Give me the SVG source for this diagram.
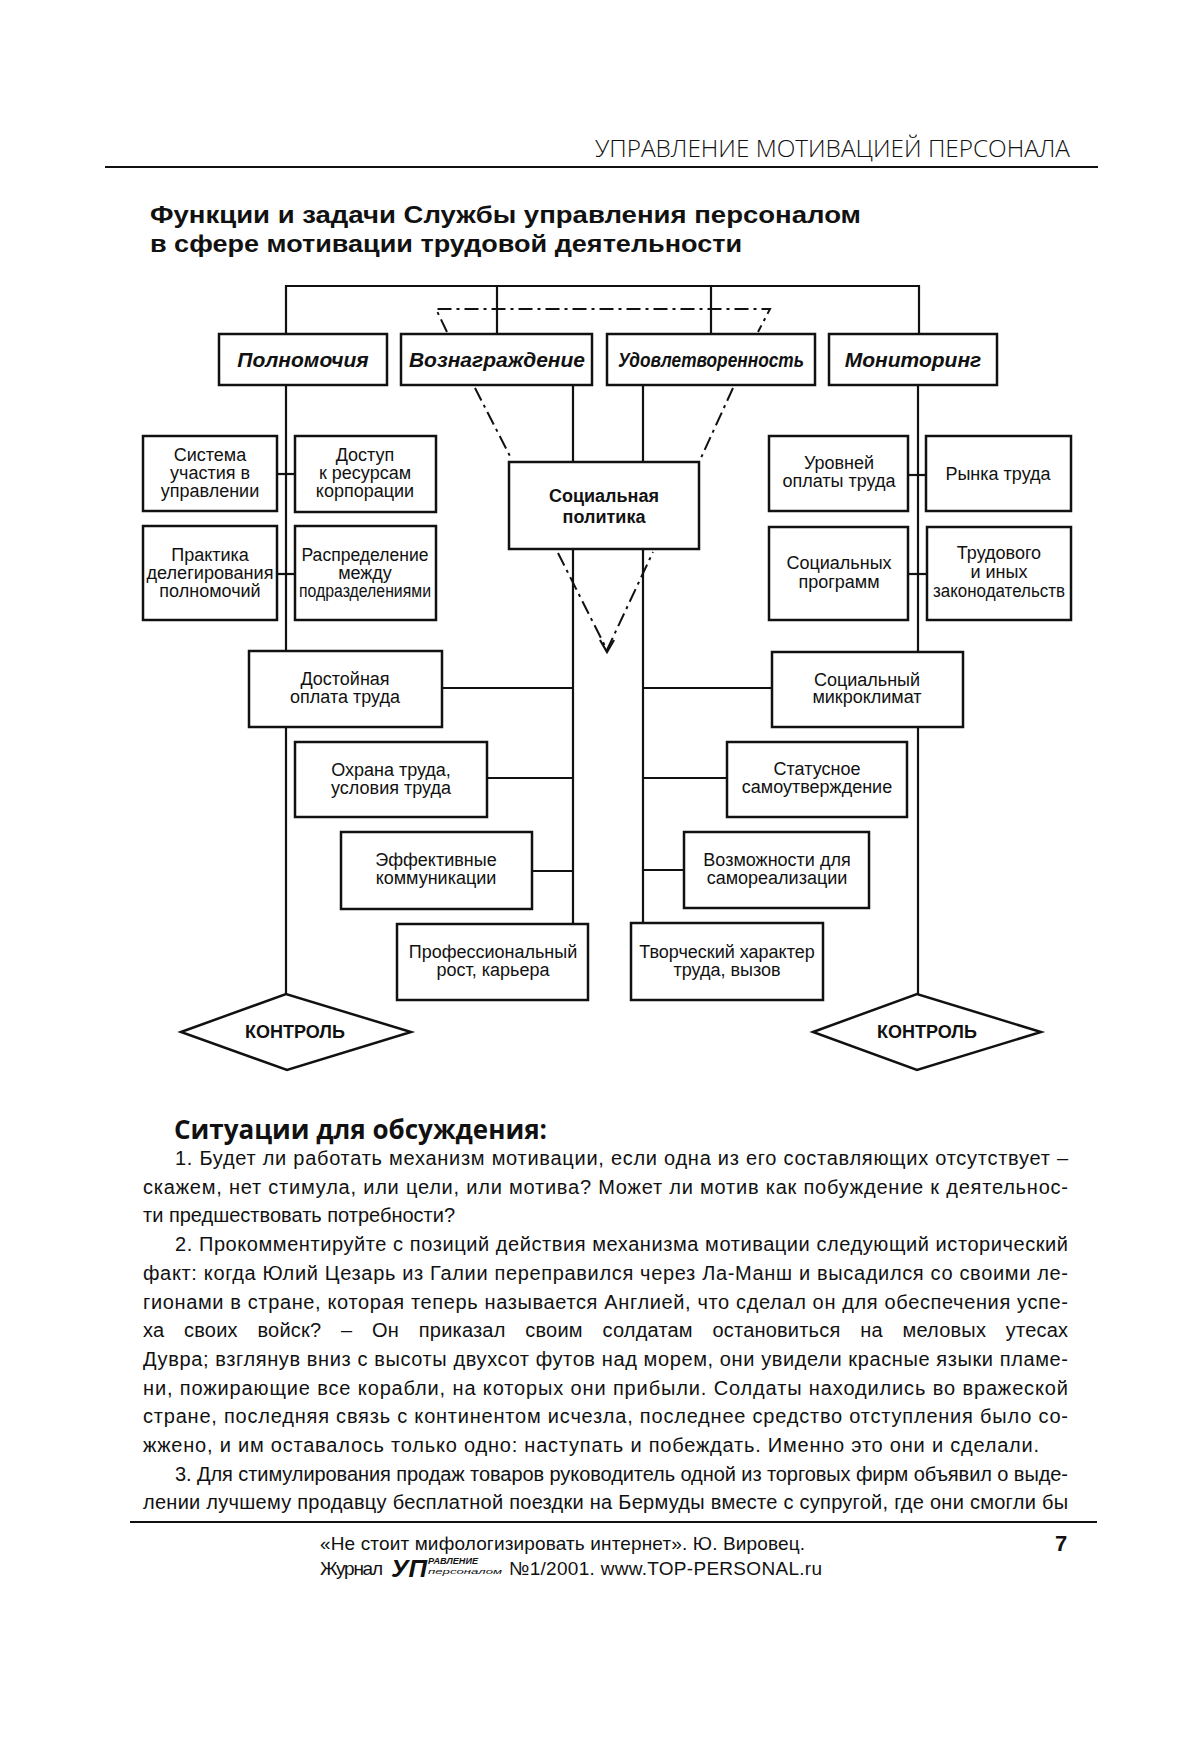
<svg xmlns="http://www.w3.org/2000/svg" width="1200" height="1738" viewBox="0 0 1200 1738">
<style>
.box{fill:#fff;stroke:#111;stroke-width:2.5}
.ln{stroke:#111;stroke-width:2.2;fill:none}
.dd{stroke:#111;stroke-width:2;stroke-dasharray:14 5 3 5;fill:none}
.t{font-family:"Liberation Sans",Arial,sans-serif;font-size:18px;text-anchor:middle;fill:#111}
.hb{font-weight:bold;font-style:italic;font-size:21px}
.b{font-weight:bold}
.body{font-family:"Liberation Sans",Arial,sans-serif;font-size:20px;fill:#111}
.ft{font-family:"Liberation Sans",Arial,sans-serif;fill:#111}
.my{font-family:"Open Sans","Liberation Sans",sans-serif;fill:#111}
.ttl{font-family:"Liberation Sans",Arial,sans-serif;font-size:24px;font-weight:bold;fill:#111}
</style>
<rect width="1200" height="1738" fill="#fff"/>
<!-- page header -->
<text class="my" x="595" y="157" font-size="24" font-weight="300" textLength="475" lengthAdjust="spacingAndGlyphs">УПРАВЛЕНИЕ МОТИВАЦИЕЙ ПЕРСОНАЛА</text>
<line x1="105" y1="167" x2="1098" y2="167" stroke="#111" stroke-width="2"/>
<text class="ttl" x="150" y="223" textLength="711" lengthAdjust="spacingAndGlyphs">Функции и задачи Службы управления персоналом</text>
<text class="ttl" x="150" y="252" textLength="592" lengthAdjust="spacingAndGlyphs">в сфере мотивации трудовой деятельности</text>

<g id="connectors">
<polyline class="ln" points="286,334 286,286 919,286 919,334"/>
<line class="ln" x1="497" y1="286" x2="497" y2="334"/>
<line class="ln" x1="711" y1="286" x2="711" y2="334"/>
<line class="ln" x1="286" y1="385" x2="286" y2="994"/>
<line class="ln" x1="918" y1="385" x2="918" y2="994"/>
<line class="ln" x1="573" y1="385" x2="573" y2="923"/>
<line class="ln" x1="643" y1="385" x2="643" y2="923"/>
<line class="ln" x1="277" y1="474" x2="295" y2="474"/>
<line class="ln" x1="277" y1="574" x2="295" y2="574"/>
<line class="ln" x1="908" y1="475" x2="926" y2="475"/>
<line class="ln" x1="908" y1="574" x2="927" y2="574"/>
<line class="ln" x1="442" y1="688" x2="573" y2="688"/>
<line class="ln" x1="487" y1="778" x2="573" y2="778"/>
<line class="ln" x1="532" y1="871" x2="573" y2="871"/>
<line class="ln" x1="643" y1="688" x2="772" y2="688"/>
<line class="ln" x1="643" y1="778" x2="727" y2="778"/>
<line class="ln" x1="643" y1="870" x2="684" y2="870"/>
<polyline class="dd" points="447,332 436,309 770,309 758,332"/>
<line class="dd" x1="475" y1="388" x2="512" y2="460"/>
<line class="dd" x1="733" y1="388" x2="700" y2="460"/>
<polyline class="dd" points="558,553 607,650 653,552"/>
<polyline class="ln" points="600,640 607,652 614,640" stroke-width="2"/>
</g>

<g id="n-polnomochiya"><rect class="box" x="219" y="334" width="168" height="51"/><text class="t hb" x="303" y="367">Полномочия</text></g>
<g id="n-voznagrazhdenie"><rect class="box" x="401" y="334" width="191" height="51"/><text class="t hb" x="497" y="367">Вознаграждение</text></g>
<g id="n-udovletvorennost"><rect class="box" x="607" y="334" width="208" height="51"/><text class="t hb" x="711" y="367" textLength="186" lengthAdjust="spacingAndGlyphs">Удовлетворенность</text></g>
<g id="n-monitoring"><rect class="box" x="829" y="334" width="168" height="51"/><text class="t hb" x="913" y="367">Мониторинг</text></g>

<g id="n-sistema"><rect class="box" x="143" y="436" width="134" height="75"/><text class="t" x="210" y="461">Система</text><text class="t" x="210" y="479">участия в</text><text class="t" x="210" y="497">управлении</text></g>
<g id="n-dostup"><rect class="box" x="295" y="436" width="141" height="76"/><text class="t" x="365" y="461">Доступ</text><text class="t" x="365" y="479">к ресурсам</text><text class="t" x="365" y="497">корпорации</text></g>
<g id="n-praktika"><rect class="box" x="143" y="526" width="134" height="94"/><text class="t" x="210" y="561">Практика</text><text class="t" x="210" y="579" textLength="127" lengthAdjust="spacingAndGlyphs">делегирования</text><text class="t" x="210" y="597">полномочий</text></g>
<g id="n-raspredelenie"><rect class="box" x="295" y="526" width="141" height="94"/><text class="t" x="365" y="561" textLength="127" lengthAdjust="spacingAndGlyphs">Распределение</text><text class="t" x="365" y="579">между</text><text class="t" x="365" y="597" textLength="132" lengthAdjust="spacingAndGlyphs">подразделениями</text></g>

<g id="n-socpolitika"><rect class="box" x="509" y="462" width="190" height="87"/><text class="t b" x="604" y="502">Социальная</text><text class="t b" x="604" y="523">политика</text></g>

<g id="n-urovney"><rect class="box" x="769" y="436" width="139" height="75"/><text class="t" x="839" y="469">Уровней</text><text class="t" x="839" y="487">оплаты труда</text></g>
<g id="n-rynka"><rect class="box" x="926" y="436" width="145" height="75"/><text class="t" x="998" y="480">Рынка труда</text></g>
<g id="n-socprogramm"><rect class="box" x="769" y="527" width="139" height="93"/><text class="t" x="839" y="569">Социальных</text><text class="t" x="839" y="588">программ</text></g>
<g id="n-trudovogo"><rect class="box" x="927" y="527" width="144" height="93"/><text class="t" x="999" y="559">Трудового</text><text class="t" x="999" y="578">и иных</text><text class="t" x="999" y="597" textLength="132" lengthAdjust="spacingAndGlyphs">законодательств</text></g>

<g id="n-dostoynaya"><rect class="box" x="249" y="651" width="193" height="76"/><text class="t" x="345" y="685">Достойная</text><text class="t" x="345" y="703">оплата труда</text></g>
<g id="n-ohrana"><rect class="box" x="295" y="742" width="192" height="75"/><text class="t" x="391" y="776">Охрана труда,</text><text class="t" x="391" y="794">условия труда</text></g>
<g id="n-effektivnye"><rect class="box" x="341" y="832" width="191" height="77"/><text class="t" x="436" y="866">Эффективные</text><text class="t" x="436" y="884">коммуникации</text></g>
<g id="n-professionalny"><rect class="box" x="397" y="924" width="191" height="76"/><text class="t" x="493" y="958">Профессиональный</text><text class="t" x="493" y="976">рост,  карьера</text></g>

<g id="n-mikroklimat"><rect class="box" x="772" y="652" width="191" height="75"/><text class="t" x="867" y="686">Социальный</text><text class="t" x="867" y="703">микроклимат</text></g>
<g id="n-statusnoe"><rect class="box" x="727" y="742" width="180" height="75"/><text class="t" x="817" y="775">Статусное</text><text class="t" x="817" y="793">самоутверждение</text></g>
<g id="n-vozmozhnosti"><rect class="box" x="684" y="832" width="185" height="76"/><text class="t" x="777" y="866">Возможности для</text><text class="t" x="777" y="884">самореализации</text></g>
<g id="n-tvorchesky"><rect class="box" x="631" y="923" width="192" height="77"/><text class="t" x="727" y="958">Творческий характер</text><text class="t" x="727" y="976">труда, вызов</text></g>

<g id="n-kontrol-left"><polygon class="box" points="181,1032 286,994 411,1032 287,1070"/><text class="t b" x="295" y="1038">КОНТРОЛЬ</text></g>
<g id="n-kontrol-right"><polygon class="box" points="813,1032 917,994 1041,1032 917,1070"/><text class="t b" x="927" y="1038">КОНТРОЛЬ</text></g>

<!-- discussion text -->
<text class="my" x="174" y="1139" font-size="26" font-weight="bold" textLength="373" lengthAdjust="spacingAndGlyphs">Ситуации для обсуждения:</text>
<g class="body">
<text x="175" y="1165" textLength="893">1. Будет ли работать механизм мотивации, если одна из его составляющих отсутствует –</text>
<text x="143" y="1194" textLength="925">скажем, нет стимула, или цели, или мотива? Может ли мотив как побуждение к деятельнос-</text>
<text x="143" y="1222">ти предшествовать потребности?</text>
<text x="175" y="1251" textLength="893">2. Прокомментируйте с позиций действия механизма мотивации следующий исторический</text>
<text x="143" y="1280" textLength="925">факт: когда Юлий Цезарь из Галии переправился через Ла-Манш и высадился со своими ле-</text>
<text x="143" y="1309" textLength="925">гионами в стране, которая теперь называется Англией, что сделал он для обеспечения успе-</text>
<text x="143" y="1337" textLength="925" word-spacing="14">ха своих войск? – Он приказал своим солдатам остановиться на меловых утесах</text>
<text x="143" y="1366" textLength="925">Дувра; взглянув вниз с высоты двухсот футов над морем, они увидели красные языки пламе-</text>
<text x="143" y="1395" textLength="925">ни, пожирающие все корабли, на которых они прибыли. Солдаты находились во вражеской</text>
<text x="143" y="1423" textLength="925">стране, последняя связь с континентом исчезла, последнее средство отступления было со-</text>
<text x="143" y="1452" textLength="896">жжено, и им оставалось только одно: наступать и побеждать. Именно это они и сделали.</text>
<text x="175" y="1481" textLength="893">3. Для стимулирования продаж товаров руководитель одной из торговых фирм объявил о выде-</text>
<text x="143" y="1509" textLength="925">лении лучшему продавцу бесплатной поездки на Бермуды вместе с супругой, где они смогли бы</text>
</g>
<line x1="130" y1="1522" x2="1097" y2="1522" stroke="#111" stroke-width="2"/>
<!-- footer -->
<g id="footer">
<text class="ft" x="320" y="1550" style="font-size:19px" textLength="485">«Не стоит мифологизировать интернет». Ю. Вировец.</text>
<text class="ft" x="1061" y="1551" style="font-size:22px;font-weight:bold" text-anchor="middle">7</text>
<text class="ft" x="320" y="1575" style="font-size:19px" textLength="63">Журнал</text>
<text class="ft" x="391" y="1577" style="font-size:24px;font-weight:bold;font-style:italic" textLength="36" lengthAdjust="spacingAndGlyphs">УП</text>
<text class="ft" x="428" y="1564" style="font-size:9px;font-weight:bold;font-style:italic" textLength="50" lengthAdjust="spacingAndGlyphs">РАВЛЕНИЕ</text>
<text class="ft" x="428" y="1574" style="font-size:8px;font-style:italic" textLength="74" lengthAdjust="spacingAndGlyphs">персоналом</text>
<text class="ft" x="509" y="1575" style="font-size:19px" textLength="313">№1/2001. www.TOP-PERSONAL.ru</text>
</g>
</svg>
